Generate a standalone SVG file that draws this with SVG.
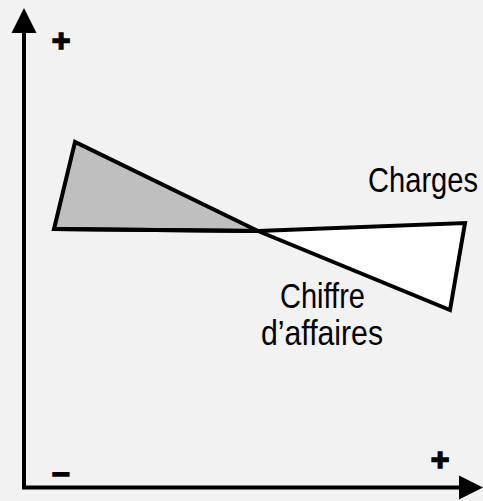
<svg xmlns="http://www.w3.org/2000/svg" width="483" height="501" viewBox="0 0 483 501">
  <style>
    .shape { stroke: #000; stroke-width: 4; stroke-linejoin: miter; }
    .label { font-family: "Liberation Sans", Arial, sans-serif; font-size: 35px; fill: #000; }
    .sign { font-family: "Liberation Sans", Arial, sans-serif; font-size: 32px; font-weight: bold; fill: #000; stroke: #000; stroke-width: 1.5; text-anchor: middle; }
  </style>
  <rect x="0" y="0" width="483" height="501" fill="#f2f2f2"/>
  <g id="axes">
    <path d="M24,30 L24,487.5 L460,487.5" fill="none" stroke="#000" stroke-width="4"/>
    <polygon points="24,8 11.5,33 36.5,33" fill="#000"/>
    <polygon points="483,487.5 459,475.5 459,499.5" fill="#000"/>
    <text class="sign" x="61" y="51">+</text>
    <text class="sign" x="440" y="470">+</text>
    <text class="sign" x="61" y="483">–</text>
  </g>
  <g id="zone-perte">
    <polygon class="shape" points="75,142 54,229 258,231" fill="#bfbfbf"/>
  </g>
  <g id="zone-benefice">
    <polygon class="shape" points="258,231 465,223 450,310" fill="#ffffff"/>
  </g>
  <g id="connectors">
    <line x1="54" y1="229" x2="258" y2="231" stroke="#000" stroke-width="4"/>
  </g>
  <g id="label-charges">
    <text class="label" x="368" y="192" textLength="110" lengthAdjust="spacingAndGlyphs">Charges</text>
  </g>
  <g id="label-ca">
    <text class="label" x="280" y="308" textLength="85" lengthAdjust="spacingAndGlyphs">Chiffre</text>
    <text class="label" x="261" y="345" textLength="122" lengthAdjust="spacingAndGlyphs">d’affaires</text>
  </g>
</svg>
